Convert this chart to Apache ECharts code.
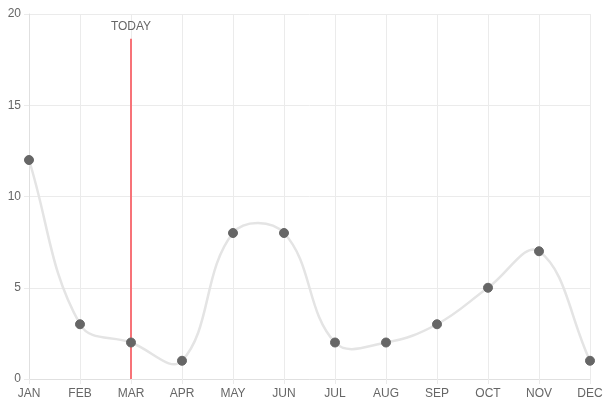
<!DOCTYPE html>
<html><head><meta charset="utf-8">
<script src="https://cdn.jsdelivr.net/npm/echarts@6/dist/echarts.min.js"></script>
<style>html,body{margin:0;padding:0;background:#fff}#c{width:608px;height:402px}</style>
</head><body><div id="c"></div>
<script>
const categories = ['JAN','FEB','MAR','APR','MAY','JUN','JUL','AUG','SEP','OCT','NOV','DEC'];
const values = [12,3,2,1,8,8,2,2,3,5,7,1];
const todayCategory = 'MAR';
const todayLabel = 'TODAY';
const todayTop = 18.65;
const tension = 0.4;

const chart = echarts.init(document.getElementById('c'), null, {renderer:'canvas'});
const gridColor = '#ebebeb';
const font = 'Arial, Liberation Sans, sans-serif';

// cardinal-spline segment (Chart.js style) drawn through the library's coordinate system
function renderSegment(params, api) {
  const i = params.dataIndex;
  const n = values.length;
  if (i >= n - 1) return null;
  const P = k => api.coord([Math.max(0, Math.min(n - 1, k)), values[Math.max(0, Math.min(n - 1, k))]]);
  function cps(k) {
    const prev = P(k - 1), cur = P(k), next = P(k + 1);
    const d01 = Math.hypot(cur[0] - prev[0], cur[1] - prev[1]);
    const d12 = Math.hypot(next[0] - cur[0], next[1] - cur[1]);
    let s01 = d01 / (d01 + d12), s12 = d12 / (d01 + d12);
    if (isNaN(s01)) s01 = 0; if (isNaN(s12)) s12 = 0;
    const fa = tension * s01, fb = tension * s12;
    return {
      prev: [cur[0] - fa * (next[0] - prev[0]), cur[1] - fa * (next[1] - prev[1])],
      next: [cur[0] + fb * (next[0] - prev[0]), cur[1] + fb * (next[1] - prev[1])]
    };
  }
  const a = P(i), b = P(i + 1);
  const ca = cps(i), cb = cps(i + 1);
  return {
    type: 'bezierCurve',
    shape: {x1: a[0], y1: a[1], x2: b[0], y2: b[1],
      cpx1: ca.next[0], cpy1: ca.next[1], cpx2: cb.prev[0], cpy2: cb.prev[1]},
    style: {stroke: '#e4e4e4', lineWidth: 2.5, fill: null}
  };
}

chart.setOption({
  animation: false,
  grid: {left: 29, right: 18, top: 14, bottom: 23},
  xAxis: {
    type: 'category', data: categories, boundaryGap: false,
    axisLine: {lineStyle: {color: '#e0e0e0'}},
    axisTick: {show: true, length: 5, lineStyle: {color: gridColor}},
    axisLabel: {color: '#666', fontSize: 12, fontFamily: font, margin: 9},
    splitLine: {show: true, lineStyle: {color: gridColor}}
  },
  yAxis: {
    type: 'value', min: 0, max: 20, interval: 5,
    axisLine: {show: true, lineStyle: {color: '#e0e0e0'}},
    axisTick: {show: true, length: 5, lineStyle: {color: gridColor}},
    axisLabel: {color: '#666', fontSize: 12, fontFamily: font, margin: 8},
    splitLine: {show: true, lineStyle: {color: gridColor}}
  },
  series: [{
    type: 'custom',
    renderItem: renderSegment,
    data: values.map((v, i) => [i, v]),
    z: 2, silent: true
  }, {
    type: 'line', data: values,
    symbol: 'circle', symbolSize: 9, showAllSymbol: true,
    itemStyle: {color: '#666', borderColor: '#666'},
    lineStyle: {width: 0, opacity: 0},
    z: 4,
    markLine: {
      silent: true, symbol: 'none',
      lineStyle: {color: '#f77378', width: 2, type: 'solid'},
      label: {show: true, position: 'end', formatter: todayLabel, color: '#666', fontSize: 12,
        fontFamily: font, distance: 6},
      data: [[{coord: [todayCategory, 0]}, {coord: [todayCategory, todayTop]}]],
      z: 3
    }
  }]
});
</script></body></html>
